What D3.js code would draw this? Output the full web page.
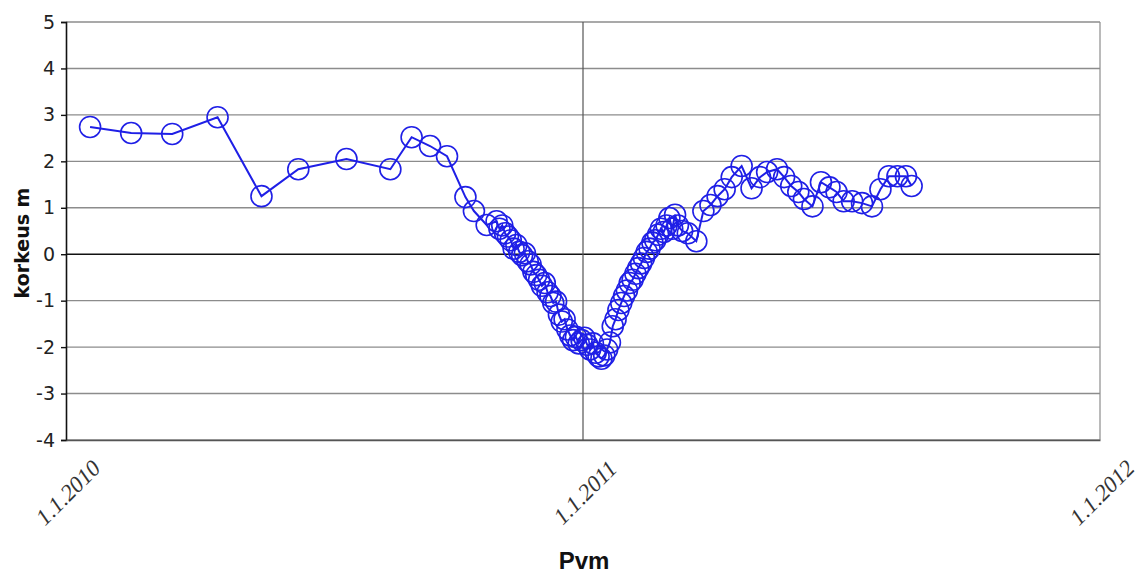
<!DOCTYPE html>
<html>
<head>
<meta charset="utf-8">
<script src="https://cdn.jsdelivr.net/npm/d3@7"></script>
<style>
  body { margin: 0; background: #fff; }
  svg { display: block; }
</style>
</head>
<body>
<svg id="chart" width="1147" height="575"></svg>
<script>
// measurement dates and heights (m)
var dates = [
  "2010-01-18", "2010-02-16", "2010-03-17", "2010-04-18", "2010-05-19", "2010-06-14",
  "2010-07-18", "2010-08-18", "2010-09-02", "2010-09-15", "2010-09-27", "2010-10-10",
  "2010-10-16", "2010-10-25",
  "2010-11-01", "2010-11-03", "2010-11-05", "2010-11-07", "2010-11-09", "2010-11-11",
  "2010-11-13", "2010-11-15", "2010-11-17", "2010-11-19", "2010-11-21", "2010-11-23",
  "2010-11-25", "2010-11-27", "2010-11-29", "2010-12-01", "2010-12-03", "2010-12-05",
  "2010-12-07", "2010-12-09", "2010-12-11", "2010-12-13", "2010-12-15", "2010-12-17",
  "2010-12-19", "2010-12-21", "2010-12-23", "2010-12-25", "2010-12-27", "2010-12-29",
  "2010-12-31", "2011-01-02", "2011-01-04", "2011-01-06", "2011-01-08", "2011-01-10",
  "2011-01-12", "2011-01-14", "2011-01-16", "2011-01-18", "2011-01-20", "2011-01-22",
  "2011-01-24", "2011-01-26", "2011-01-28", "2011-01-30", "2011-02-01", "2011-02-03",
  "2011-02-05", "2011-02-07", "2011-02-09", "2011-02-11", "2011-02-13", "2011-02-15",
  "2011-02-17", "2011-02-19", "2011-02-21", "2011-02-23", "2011-02-25", "2011-02-27",
  "2011-03-01", "2011-03-03", "2011-03-05", "2011-03-07", "2011-03-09", "2011-03-12",
  "2011-03-16", "2011-03-22", "2011-03-27",
  "2011-04-01", "2011-04-06", "2011-04-11", "2011-04-16", "2011-04-23", "2011-04-30",
  "2011-05-06", "2011-05-11", "2011-05-18", "2011-05-23", "2011-05-28", "2011-06-02",
  "2011-06-06", "2011-06-12", "2011-06-18", "2011-06-24", "2011-06-29", "2011-07-04",
  "2011-07-10", "2011-07-17", "2011-07-24", "2011-07-30", "2011-08-05", "2011-08-11",
  "2011-08-17", "2011-08-21"
];
var heights = [
  2.74, 2.61, 2.59, 2.95, 1.25, 1.83,
  2.05, 1.83, 2.52, 2.33, 2.11, 1.23,
  0.93, 0.63,
  0.71, 0.55, 0.62, 0.45, 0.38, 0.30,
  0.12, 0.20, 0.05, -0.02, 0.02, -0.15,
  -0.22, -0.38, -0.45, -0.55, -0.68, -0.62,
  -0.82, -0.90, -1.05, -1.02, -1.30, -1.45,
  -1.40, -1.62, -1.75, -1.85, -1.78, -1.92,
  -1.85, -1.80, -1.95, -2.05, -1.92, -2.12,
  -2.20, -2.25, -2.18, -2.05, -1.90, -1.55,
  -1.40, -1.20, -1.05, -0.90, -0.78, -0.62,
  -0.55, -0.42, -0.30, -0.20, -0.08, 0.05,
  0.12, 0.25, 0.30, 0.42, 0.55, 0.48,
  0.62, 0.78, 0.55, 0.85, 0.62, 0.50,
  0.45, 0.28, 0.93,
  1.06, 1.25, 1.40, 1.66, 1.90, 1.42,
  1.66, 1.77, 1.83, 1.66, 1.47, 1.34,
  1.19, 1.03, 1.55, 1.44, 1.34, 1.14,
  1.14, 1.10, 1.03, 1.40, 1.68, 1.68,
  1.68, 1.47
];
var yTicks = [5, 4, 3, 2, 1, 0, -1, -2, -3, -4];
var xTicks = ["2010-01-01", "2011-01-01", "2012-01-01"];

var parse = d3.timeParse("%Y-%m-%d");
var data = dates.map(function(d, i){
  return { date: parse(d), value: heights[i] };
});

var svg = d3.select("#chart");
var plotLeft = 66, plotRight = 1100, plotTop = 22, plotBottom = 440;

var x = d3.scaleTime()
  .domain([parse(xTicks[0]), parse(xTicks[2])])
  .range([plotLeft, plotRight]);
var y = d3.scaleLinear()
  .domain([-4, 5])
  .range([plotBottom, plotTop]);

// horizontal grid
svg.append("g")
  .selectAll("line")
  .data(yTicks)
  .enter()
  .append("line")
  .attr("x1", plotLeft)
  .attr("x2", plotRight)
  .attr("y1", function(d){ return y(d); })
  .attr("y2", function(d){ return y(d); })
  .attr("stroke", function(d){ return d === 0 ? "#111" : "#8c8c8c"; })
  .attr("stroke-width", function(d){ return d === 0 ? 1.6 : 1.4; });

// vertical grid
svg.append("g")
  .selectAll("line")
  .data(xTicks.slice(1))
  .enter()
  .append("line")
  .attr("x1", function(d){ return x(parse(d)); })
  .attr("x2", function(d){ return x(parse(d)); })
  .attr("y1", plotTop)
  .attr("y2", plotBottom)
  .attr("stroke", function(d, i){ return i === 0 ? "#555" : "#8c8c8c"; })
  .attr("stroke-width", 1.2);

// y axis
var yAxis = svg.append("g")
  .attr("transform", "translate(" + plotLeft + ",0)")
  .call(d3.axisLeft(y).tickValues(yTicks).tickSize(5).tickPadding(6)
    .tickFormat(function(d){ return String(d); }));
yAxis.select(".domain").attr("stroke", "#111").attr("stroke-width", 1.6);
yAxis.selectAll(".tick line").attr("stroke", "#111").attr("stroke-width", 1.4);
yAxis.selectAll("text")
  .attr("font-family", "DejaVu Sans, sans-serif")
  .attr("font-size", 19)
  .attr("fill", "#222");

// x axis
var xAxis = svg.append("g")
  .attr("transform", "translate(0," + plotBottom + ")")
  .call(d3.axisBottom(x).tickValues(xTicks.map(parse)).tickSize(0).tickFormat(d3.timeFormat("%-d.%-m.%Y")));
xAxis.select(".domain").attr("stroke", "#555").attr("stroke-width", 1.4);
xAxis.selectAll("text")
  .attr("font-family", "Liberation Serif, serif")
  .attr("font-style", "italic")
  .attr("font-size", 23)
  .attr("fill", "#333")
  .attr("text-anchor", "middle")
  .attr("dy", 0)
  .attr("y", 0)
  .attr("transform", "translate(7,58) rotate(-45)");

// series line
var line = d3.line()
  .x(function(d){ return x(d.date); })
  .y(function(d){ return y(d.value); });

svg.append("path")
  .datum(data)
  .attr("d", line)
  .attr("fill", "none")
  .attr("stroke", "#1f1fe6")
  .attr("stroke-width", 2);

svg.append("g")
  .selectAll("circle")
  .data(data)
  .enter()
  .append("circle")
  .attr("cx", function(d){ return x(d.date); })
  .attr("cy", function(d){ return y(d.value); })
  .attr("r", 10.5)
  .attr("fill", "none")
  .attr("stroke", "#1f1fe6")
  .attr("stroke-width", 1.6);

// axis titles
svg.append("text")
  .attr("x", 584)
  .attr("y", 569)
  .attr("text-anchor", "middle")
  .attr("font-family", "Liberation Sans, sans-serif")
  .attr("font-weight", "bold")
  .attr("font-size", 24)
  .attr("fill", "#111")
  .text("Pvm");

svg.append("text")
  .attr("transform", "translate(29,243) rotate(-90)")
  .attr("text-anchor", "middle")
  .attr("font-family", "DejaVu Sans, sans-serif")
  .attr("font-weight", "bold")
  .attr("font-size", 19)
  .attr("fill", "#111")
  .text("korkeus m");
</script>
</body>
</html>
